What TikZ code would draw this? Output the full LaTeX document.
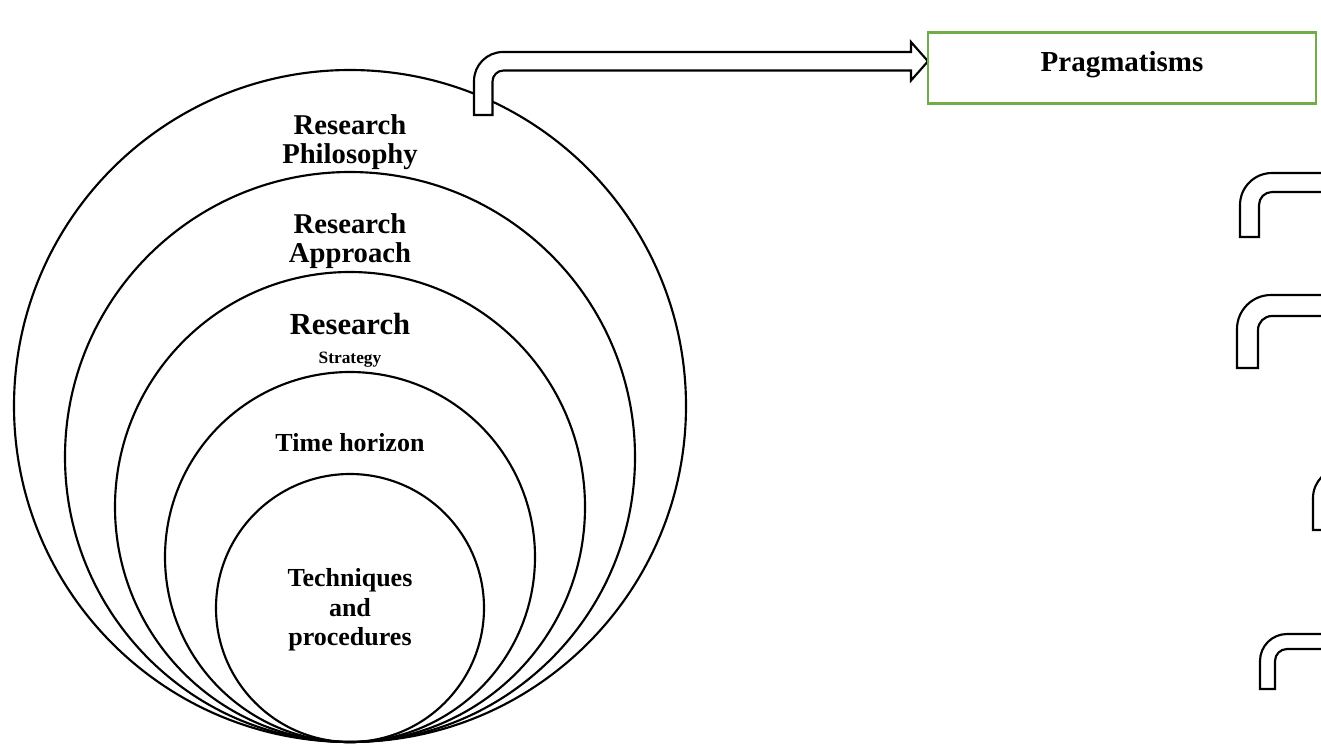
\documentclass[tikz,border=0pt]{standalone}
\usepackage{fontspec}
\setmainfont{Liberation Serif}
\definecolor{boxgreen}{RGB}{112,173,71}
\tikzset{
  ring/.style={black,line width=1.6pt},
  ringtext/.style={font=\bfseries\fontsize{21.5}{22.2}\selectfont,align=center,inner sep=0pt},
  smalltext/.style={font=\bfseries\fontsize{19.5}{22}\selectfont,align=center,inner sep=0pt},
  bendline/.style={black,line width=1.6pt,fill=white,line join=miter},
  pragbox/.style={draw=boxgreen,line width=1.6pt,minimum width=291pt,minimum height=53.25pt,
    font=\bfseries\fontsize{21.75}{22}\selectfont,text depth=10pt},
}
\NewDocumentCommand\DrawBend{mmmmmmm}%
{%
\draw[bendline] (#1,#2) -- (#1,{#3+#6}) arc (180:270:#6) -- ({#4-17},#3) -- ({#4-17},{#3-10})
  -- (#4,{#3+#5/2}) -- ({#4-17},{#3+#5+10}) -- ({#4-17},{#3+#5}) -- ({#1+#5+#7},{#3+#5})
  arc (270:180:#7) -- ({#1+#5},#2) -- cycle;%
}
\begin{document}
\begin{tikzpicture}[x=0.75pt,y=-0.75pt]
\useasboundingbox (0,0) rectangle (1321,743);
\clip (0,0) rectangle (1321,743);
% nested rings, all touching at the bottom
\foreach \r in {336,285,235,185,134}
  \draw[ring] (350,{742-\r}) circle (\r);
\node[ringtext] (philo) at (350,142) {Research\\Philosophy};
\node[ringtext] (approach) at (350,241) {Research\\Approach};
\node[font=\bfseries\fontsize{23}{24}\selectfont,inner sep=0pt,anchor=base] (strategyA) at (350,334) {Research};
\node[font=\bfseries\fontsize{13}{14}\selectfont,inner sep=0pt,anchor=base] (strategyB) at (350,363) {Strategy};
\node[smalltext,anchor=base] (horizon) at (350,451) {Time horizon};
\node[smalltext] (techniques) at (350,610) {Techniques\\and\\procedures};
% bent arrow to the box
\DrawBend{474}{115}{52}{928}{18.5}{29}{11}
\node[pragbox] (prag) at (1122,68) {Pragmatisms};
% cut-off arrows on the right edge
\DrawBend{1240}{237}{173}{1420}{19}{32}{13}
\DrawBend{1237}{368}{295}{1420}{21}{34}{14}
\DrawBend{1313}{530}{468}{1420}{19}{30}{13}
\DrawBend{1260}{689}{634}{1420}{15}{27}{12}
\end{tikzpicture}
\end{document}
